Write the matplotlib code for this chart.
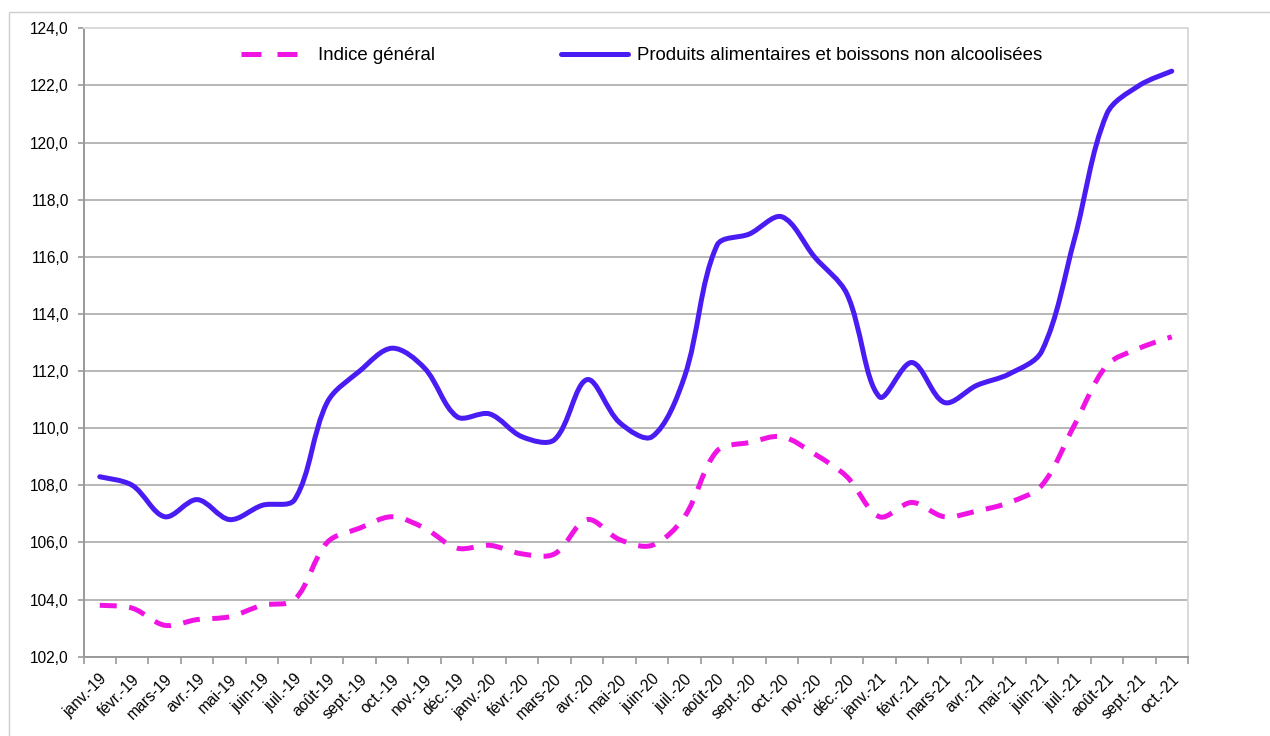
import math
import matplotlib
matplotlib.use("Agg")
import matplotlib.pyplot as plt
import matplotlib.transforms as mtransforms
from matplotlib.path import Path
from matplotlib.patches import PathPatch, Rectangle
from matplotlib.lines import Line2D
from matplotlib.ticker import FuncFormatter, FixedLocator

plt.rcParams['font.family'] = ['Liberation Sans', 'DejaVu Sans']

months = ['janv.-19', 'févr.-19', 'mars-19', 'avr.-19', 'mai-19', 'juin-19', 'juil.-19',
          'août-19', 'sept.-19', 'oct.-19', 'nov.-19', 'déc.-19',
          'janv.-20', 'févr.-20', 'mars-20', 'avr.-20', 'mai-20', 'juin-20', 'juil.-20',
          'août-20', 'sept.-20', 'oct.-20', 'nov.-20', 'déc.-20',
          'janv.-21', 'févr.-21', 'mars-21', 'avr.-21', 'mai-21', 'juin-21', 'juil.-21',
          'août-21', 'sept.-21', 'oct.-21']

indice_general = [103.8, 103.7, 103.1, 103.3, 103.4, 103.8, 104.0, 106.0, 106.5, 106.9,
                  106.5, 105.8, 105.9, 105.6, 105.6, 106.8, 106.1, 105.9, 106.9, 109.2,
                  109.5, 109.7, 109.1, 108.3, 106.9, 107.4, 106.9, 107.1, 107.4, 108.0,
                  110.1, 112.2, 112.8, 113.2]

alimentaires = [108.3, 108.0, 106.9, 107.5, 106.8, 107.3, 107.5, 110.9, 112.0, 112.8,
                112.1, 110.4, 110.5, 109.7, 109.6, 111.7, 110.2, 109.7, 111.8, 116.4,
                116.8, 117.4, 116.0, 114.7, 111.1, 112.3, 110.9, 111.5, 111.9, 112.7,
                116.6, 121.0, 122.0, 122.5]

label_general = 'Indice général'
label_alim = 'Produits alimentaires et boissons non alcoolisées'

y_ticks = [102, 104, 106, 108, 110, 112, 114, 116, 118, 120, 122, 124]

col_general = '#F014E4'
col_alim = '#4A1CF4'


def smooth_path(ax, xs, ys):
    """Excel-like smoothed line: cubic Bezier segments whose tangents are
    weighted by on-screen segment lengths."""
    pts = list(zip(xs, ys))
    disp = ax.transData.transform(pts)
    n = len(pts)

    def dist(i, j):
        return math.hypot(disp[j][0] - disp[i][0], disp[j][1] - disp[i][1])

    verts = [pts[0]]
    codes = [Path.MOVETO]
    for i in range(n - 1):
        p1, p2 = pts[i], pts[i + 1]
        if i > 0:
            p0 = pts[i - 1]
            w = dist(i, i + 1) / (dist(i - 1, i) + dist(i, i + 1))
            c1 = (p1[0] + (p2[0] - p0[0]) * w / 3.0, p1[1] + (p2[1] - p0[1]) * w / 3.0)
        else:
            c1 = (p1[0] + (p2[0] - p1[0]) / 6.0, p1[1] + (p2[1] - p1[1]) / 6.0)
        if i + 2 < n:
            p3 = pts[i + 2]
            w = dist(i, i + 1) / (dist(i, i + 1) + dist(i + 1, i + 2))
            c2 = (p2[0] - (p3[0] - p1[0]) * w / 3.0, p2[1] - (p3[1] - p1[1]) * w / 3.0)
        else:
            c2 = (p2[0] - (p2[0] - p1[0]) / 6.0, p2[1] - (p2[1] - p1[1]) / 6.0)
        verts += [c1, c2, p2]
        codes += [Path.CURVE4] * 3
    return Path(verts, codes)


fig = plt.figure(figsize=(12.70, 7.36), dpi=100)
fig.patch.set_facecolor('white')

# outer chart border
fig.add_artist(Rectangle((9 / 1270, -0.05), 1.2, 1.05 - 12 / 736, transform=fig.transFigure,
                         fill=False, edgecolor='#cfcfcf', linewidth=1.0))

ax = fig.add_axes([83.5 / 1270, 1 - 656.7 / 736, (1188 - 83.5) / 1270, (656.7 - 28.3) / 736])
ax.set_facecolor('white')

x = list(range(len(months)))
ax.set_xlim(-0.5, len(months) - 0.5)
ax.set_ylim(y_ticks[0], y_ticks[-1])

p_gen = PathPatch(smooth_path(ax, x, indice_general), fill=False, edgecolor=col_general,
                  linewidth=3.6, linestyle=(0, (3.4, 2.5)), capstyle='butt',
                  joinstyle='round', zorder=3)
p_alim = PathPatch(smooth_path(ax, x, alimentaires), fill=False, edgecolor=col_alim,
                   linewidth=3.6, capstyle='round', joinstyle='round', zorder=4)
ax.add_patch(p_gen)
ax.add_patch(p_alim)

# y axis
ax.yaxis.set_major_locator(FixedLocator(y_ticks))
ax.yaxis.set_major_formatter(FuncFormatter(lambda v, p: f"{v:.1f}".replace('.', ',')))
ax.tick_params(axis='y', which='major', length=4, width=1.2, color='#999999',
               pad=6.5, labelsize=11.2, labelcolor='black')

# x axis: tick marks at category boundaries, labels at centers
ax.xaxis.set_major_locator(FixedLocator([i - 0.5 for i in range(len(months) + 1)]))
ax.xaxis.set_major_formatter(FuncFormatter(lambda v, p: ''))
ax.xaxis.set_minor_locator(FixedLocator(x))
ax.set_xticklabels(months, minor=True)
ax.tick_params(axis='x', which='major', length=5, width=1.2, color='#999999', direction='out')
ax.tick_params(axis='x', which='minor', length=0, pad=14.5, labelsize=11.2, labelcolor='black')
shift = mtransforms.ScaledTranslation(5 / 100, 0, fig.dpi_scale_trans)
for lab in ax.get_xticklabels(minor=True):
    lab.set_rotation(45)
    lab.set_rotation_mode('anchor')
    lab.set_ha('right')
    lab.set_va('center')
    lab.set_transform(lab.get_transform() + shift)

# grid
ax.yaxis.grid(True, color='#a3a3a3', linewidth=1.1, zorder=1)
ax.set_axisbelow(True)
gl = ax.yaxis.get_gridlines()
gl[-1].set_visible(False)
gl[0].set_visible(False)

for side in ['left', 'bottom']:
    ax.spines[side].set_color('#999999')
    ax.spines[side].set_linewidth(1.4)
for side in ['top', 'right']:
    ax.spines[side].set_color('#dadada')
    ax.spines[side].set_linewidth(1.4)

handles = [
    Line2D([], [], color=col_general, linewidth=3.6, linestyle=(0, (4.0, 3.2)),
           dash_capstyle='butt'),
    Line2D([], [], color=col_alim, linewidth=3.6, solid_capstyle='round'),
]
leg = fig.legend(handles, [label_general, label_alim], loc='center',
                 bbox_to_anchor=(642 / 1270, 1 - 55.7 / 736), ncol=2, frameon=False,
                 fontsize=13.4, handlelength=3.6, handletextpad=0.5, columnspacing=6.8)

fig.savefig('out.png', dpi=100, facecolor='white')
